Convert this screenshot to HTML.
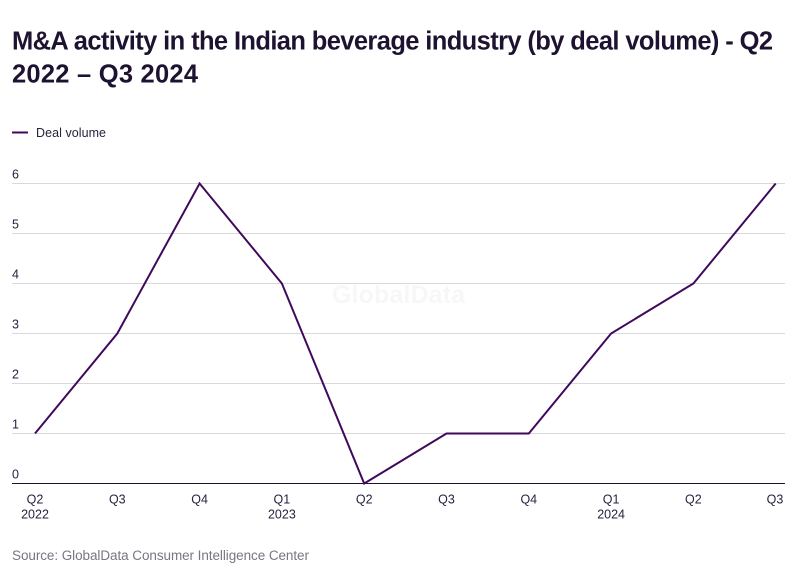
<!DOCTYPE html>
<html lang="en">
<head>
<meta charset="utf-8">
<title>M&amp;A activity in the Indian beverage industry</title>
<style>
html,body{margin:0;padding:0;background:#fff;width:808px;height:579px;overflow:hidden}
svg{display:block;font-family:"Liberation Sans",sans-serif}
</style>
</head>
<body>
<svg id="chart" width="808" height="579" viewBox="0 0 808 579" xmlns="http://www.w3.org/2000/svg">
  <text x="12" y="49.5" font-size="25.5" font-weight="700" fill="#1d1330" textLength="761" lengthAdjust="spacing">M&amp;A activity in the Indian beverage industry (by deal volume) - Q2</text>
  <text x="12" y="82.5" font-size="25.5" font-weight="700" fill="#1d1330" textLength="186" lengthAdjust="spacing">2022 – Q3 2024</text>
  <line x1="12" x2="28" y1="132.5" y2="132.5" stroke="#40095c" stroke-width="2"/>
  <text x="36" y="137" font-size="12.5" fill="#2a2140" textLength="70" lengthAdjust="spacing">Deal volume</text>
  <text x="332" y="303" font-size="25" font-weight="700" fill="#f7f7f7" textLength="133" lengthAdjust="spacing">GlobalData</text>
  <g id="gridlines"></g>
  <g id="y-labels"></g>
  <g id="x-labels"></g>
  <line x1="12" x2="785" y1="483.5" y2="483.5" stroke="#1d1330" stroke-width="1"/>
  <path id="series" fill="none" stroke="#40095c" stroke-width="2" stroke-linejoin="miter"></path>
  <text x="12" y="560" font-size="13.5" fill="#7a7680" textLength="297" lengthAdjust="spacing">Source: GlobalData Consumer Intelligence Center</text>
</svg>
<script>
const quarters = ['Q2','Q3','Q4','Q1','Q2','Q3','Q4','Q1','Q2','Q3'];
const years = ['2022','','','2023','','','','2024','',''];
const dealVolume = [1,3,6,4,0,1,1,3,4,6];
const yTicks = [0,1,2,3,4,5,6];

const NS = 'http://www.w3.org/2000/svg';
const plot = {left:35, right:775.7, top:183.5, bottom:483.5, gridLeft:12, gridRight:785};
const yMax = yTicks[yTicks.length-1];
const xScale = i => plot.left + i*(plot.right-plot.left)/(quarters.length-1);
const yScale = v => plot.bottom - v*(plot.bottom-plot.top)/yMax;

function addText(parent, x, y, str, anchor){
  const t = document.createElementNS(NS,'text');
  t.setAttribute('x', x);
  t.setAttribute('y', y);
  t.setAttribute('font-size', '12.5');
  t.setAttribute('fill', '#2a2140');
  t.setAttribute('text-anchor', anchor);
  t.textContent = str;
  parent.appendChild(t);
  return t;
}

const grid = document.getElementById('gridlines');
const yLab = document.getElementById('y-labels');
yTicks.forEach(v => {
  if (v !== 0) {
    const l = document.createElementNS(NS,'line');
    
    
    l.setAttribute('x1', plot.gridLeft);
    l.setAttribute('x2', plot.gridRight);
    l.setAttribute('y1', yScale(v));
    l.setAttribute('y2', yScale(v));
    l.setAttribute('stroke', '#d9d9d9');
    l.setAttribute('stroke-width', '1');
    grid.appendChild(l);
  }
  const t = addText(yLab, 12, yScale(v)-5, String(v), 'start');
  
  
});

const xLab = document.getElementById('x-labels');
quarters.forEach((q,i) => {
  const t = addText(xLab, Math.min(xScale(i), 775), 503.5, q, 'middle');
  
  
  if (years[i]) {
    const y = addText(xLab, xScale(i), 518.5, years[i], 'middle');
    
    
  }
});

document.getElementById('series').setAttribute('d',
  dealVolume.map((v,i) => (i ? 'L' : 'M') + xScale(i).toFixed(2) + ' ' + yScale(v).toFixed(2)).join(' '));
</script>
</body>
</html>
